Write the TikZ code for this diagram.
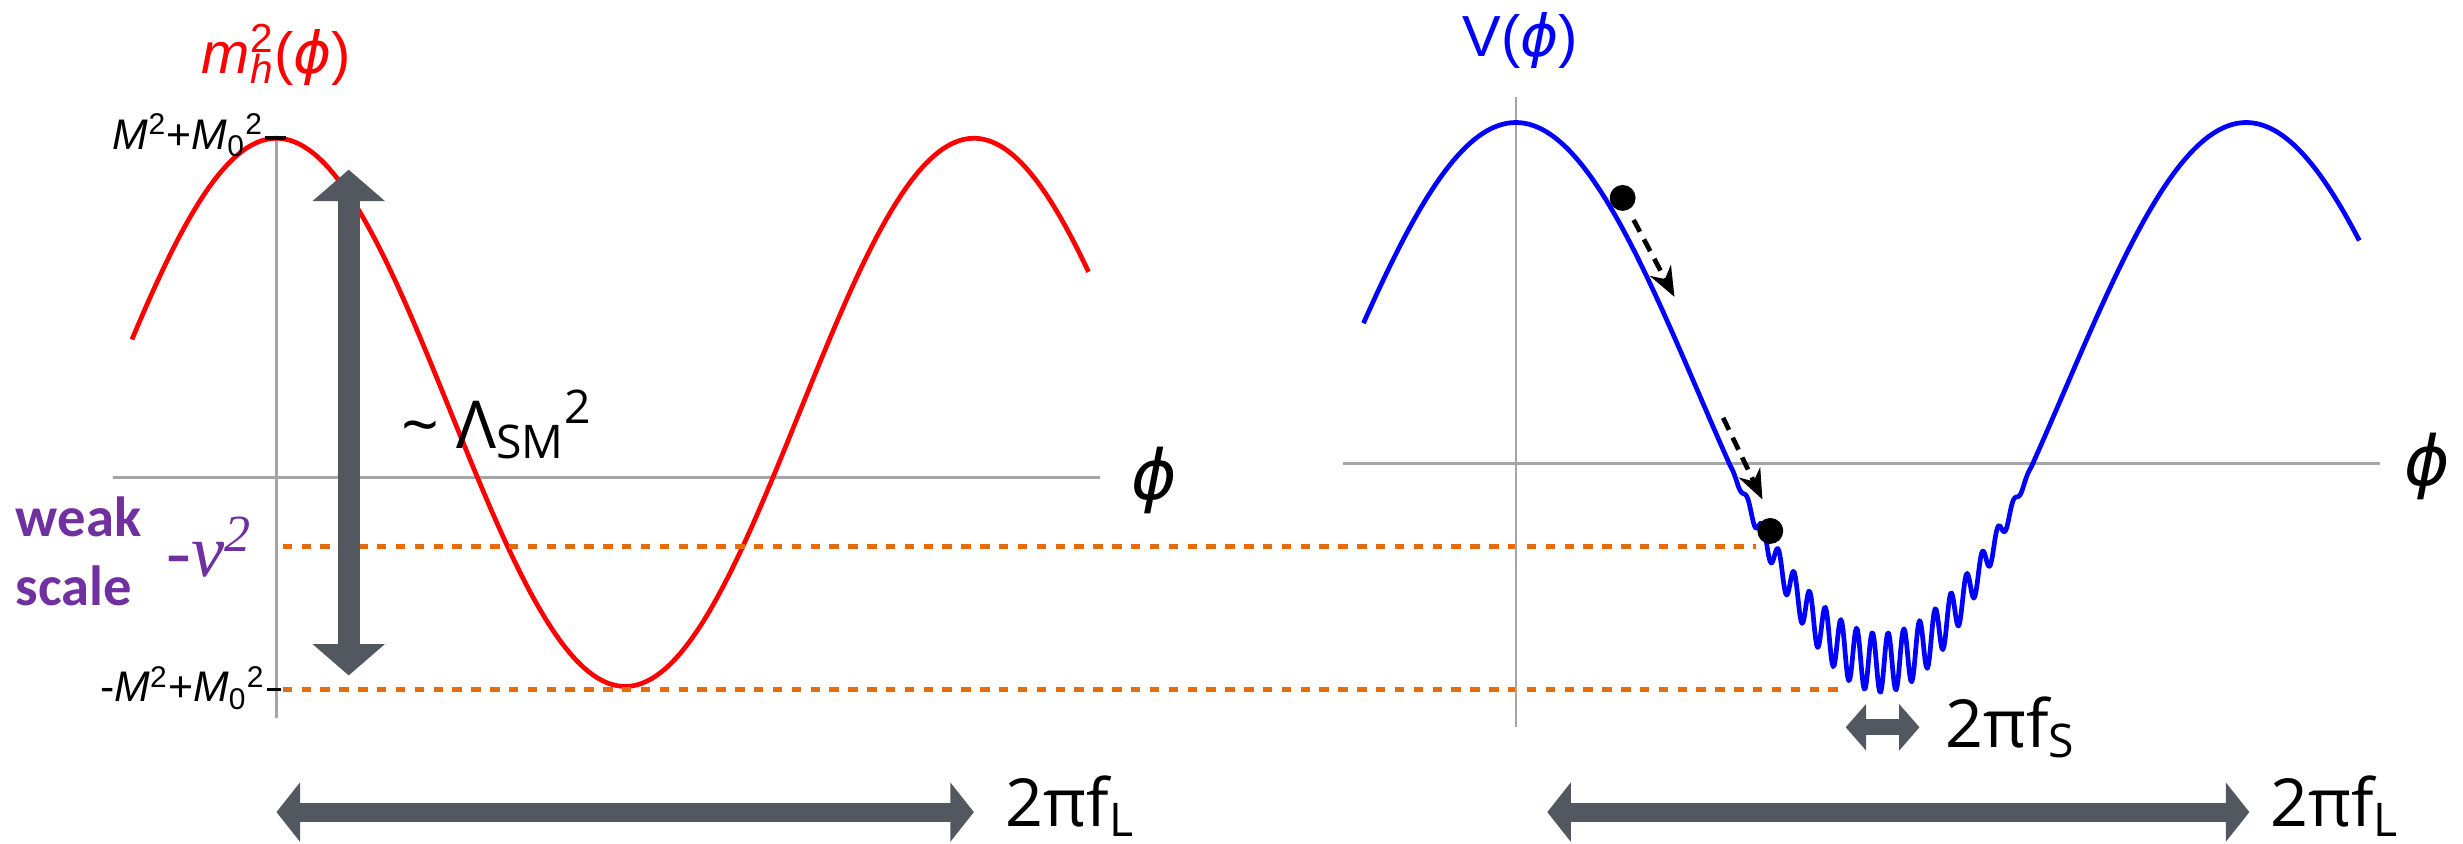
\documentclass[tikz,border=0pt]{standalone}
\usepackage{fontspec}
\setmainfont{Liberation Sans}
\newfontfamily\labelfont{Open Sans}
\newfontfamily\weakfont{Carlito}
\newfontfamily\vevfont{Liberation Serif}
\newfontfamily\phifont{DejaVu Sans}
\usetikzlibrary{positioning,calc}
\usetikzlibrary{arrows.meta}
\definecolor{ArrowGray}{RGB}{83,88,96}
\definecolor{WeakPurple}{RGB}{112,48,160}
\definecolor{ScaleOrange}{RGB}{228,108,10}
\definecolor{AxisGray}{RGB}{165,165,165}
\newcommand{\fld}{{\phifont\itshape ϕ}}
\tikzset{
  axis/.style={draw=AxisGray,line width=0.3mm},
  mcurve/.style={draw=red,line width=0.6mm},
  vcurve/.style={draw=blue,line width=0.6mm,line join=round},
  level/.style={draw=ScaleOrange,line width=0.6mm,dash pattern=on 1.2mm off 1.2mm},
  tick/.style={draw=black,line width=0.45mm},
  bigarrow/.style={draw=ArrowGray,line width=2.8mm,
    {Triangle[width=9mm,length=4mm]}-{Triangle[width=9mm,length=4mm]}},
  widearrow/.style={draw=ArrowGray,line width=2.4mm,
    {Triangle[width=7.4mm,length=3mm]}-{Triangle[width=7.4mm,length=3mm]}},
  smallarrow/.style={draw=ArrowGray,line width=2mm,
    {Triangle[width=5.8mm,length=2.6mm]}-{Triangle[width=5.8mm,length=2.6mm]}},
  roll/.style={draw=black,line width=0.6mm,dash pattern=on 1.7mm off 1.1mm,
    -{Stealth[length=3.8mm,width=3mm]}},
  ball/.style={circle,fill=black,inner sep=0pt,minimum size=3.3mm},
  title/.style={inner sep=0pt,font=\fontsize{21}{24}\selectfont},
  lvl/.style={inner sep=0pt,font=\fontsize{15.5}{18}\selectfont},
  big/.style={inner sep=0pt,font=\labelfont\fontsize{24}{28}\selectfont},
  phi/.style={inner sep=0pt,font=\fontsize{25}{28}\selectfont},
}
\begin{document}
\begin{tikzpicture}[x=0.2mm,y=-0.2mm]
\useasboundingbox (0,0) rectangle (1568,537);
% left panel
\coordinate (lv0) at (176,88);
\coordinate (lv1) at (176,457);
\coordinate (lh0) at (72,304);
\coordinate (lh1) at (700,304);
\draw[axis] (lv0) -- (lv1);
\draw[axis] (lh0) -- (lh1);
\draw[mcurve] plot[domain=84:693,samples=200] (\x,{262.5-174.5*cos((\x-176)/444*360)});
\node[title,text=red] (mtitle) at (176,35) {\textit{m}\rlap{\textsuperscript{2}}\textsubscript{\textit{h}}(\fld)};
\node[phi] (lphi) at (735,306) {\fld};
\coordinate (top0) at (169,88);
\coordinate (top1) at (182,88);
\coordinate (bot0) at (170,439);
\coordinate (bot1) at (179,439);
\draw[tick] (top0) -- (top1);
\draw[tick] (bot0) -- (bot1);
\node[lvl,anchor=east] (mtop) at (168,86) {\textit{M}\textsuperscript{2}+\textit{M}\textsubscript{0}\textsuperscript{2}};
\node[lvl,anchor=east] (mbot) at (169,438) {-\textit{M}\textsuperscript{2}+\textit{M}\textsubscript{0}\textsuperscript{2}};
\coordinate (vev0) at (180,348);
\coordinate (vev1) at (1118,348);
\coordinate (min0) at (180,439);
\coordinate (min1) at (1175,439);
\draw[level] (vev0) -- (vev1);
\draw[level] (min0) -- (min1);
\node[inner sep=0pt,text=WeakPurple,align=left,font=\weakfont\bfseries\fontsize{20.5}{25}\selectfont] (weak) at (50,351) {weak\\scale};
\node[inner sep=0pt,text=WeakPurple,font=\vevfont\itshape\fontsize{27}{30}\selectfont] (vev) at (133,348) {-v\textsuperscript{2}};
\coordinate (lamtop) at (222,108);
\coordinate (lambot) at (222,430);
\draw[bigarrow] (lambot) -- (lamtop);
\node[big,anchor=west] (lam) at (255,270) {\textasciitilde\ Λ\textsubscript{SM}\textsuperscript{2}};
\coordinate (fl0) at (176,517);
\coordinate (fl1) at (620,517);
\draw[widearrow] (fl0) -- (fl1);
\node[big,anchor=west] (fl) at (640,513) {2πf\textsubscript{L}};
% right panel
\coordinate (rv0) at (965,62);
\coordinate (rv1) at (965,463);
\coordinate (rh0) at (855,295);
\coordinate (rh1) at (1515,295);
\draw[axis] (rv0) -- (rv1);
\draw[axis] (rh0) -- (rh1);
\draw[vcurve] plot[domain=868:1502,samples=900]
  (\x,{250-172*cos((\x-965)/465*360)+26*max(0,-cos((\x-965)/465*360)-0.27)*cos((\x-1197)/10*360)});
\node[title,text=blue] (vtitle) at (968,26) {V(\fld)};
\node[phi] (rphi) at (1545,297) {\fld};
\node[ball] (ball1) at (1033,126) {};
\node[ball] (ball2) at (1127,338) {};
\coordinate (r1a) at (1040,140);
\coordinate (r1b) at (1066,189);
\coordinate (r2a) at (1097,266);
\coordinate (r2b) at (1122,318);
\draw[roll] (r1a) -- (r1b);
\draw[roll] (r2a) -- (r2b);
\coordinate (fs0) at (1175,463);
\coordinate (fs1) at (1222,463);
\draw[smallarrow] (fs0) -- (fs1);
\node[big,anchor=west] (fs) at (1238,463) {2πf\textsubscript{S}};
\coordinate (fr0) at (985,517);
\coordinate (fr1) at (1432,517);
\draw[widearrow] (fr0) -- (fr1);
\node[big,anchor=west] (fr) at (1445,513) {2πf\textsubscript{L}};
\end{tikzpicture}
\end{document}
